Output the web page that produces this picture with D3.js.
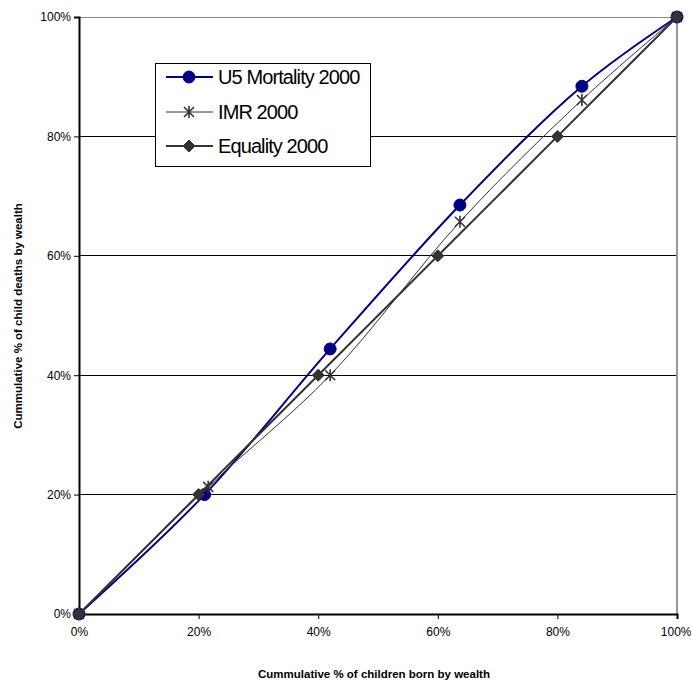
<!DOCTYPE html>
<html>
<head>
<meta charset="utf-8">
<script src="https://cdn.jsdelivr.net/npm/d3@7"></script>
<style>
  html, body { margin: 0; padding: 0; background: #fff; }
  svg { display: block; font-family: Arial, "Liberation Sans", sans-serif; }
</style>
</head>
<body>
<svg id="chart" width="691" height="681"></svg>
<script>
// Cumulative shares (%) by wealth
const u5X = [0, 21, 42, 63.7, 84.1, 100];
const u5Y = [0, 20, 44.4, 68.5, 88.4, 100];
const imrX = [0, 21.6, 42, 63.7, 84.1, 100];
const imrY = [0, 21.3, 40, 65.7, 86.1, 100];
const eqX = [0, 20, 40, 60, 80, 100];
const eqY = [0, 20, 40, 60, 80, 100];
const tickValues = [0, 20, 40, 60, 80, 100];
const seriesNames = ["U5 Mortality 2000", "IMR 2000", "Equality 2000"];

const svg = d3.select("#chart");
const plotL = 79, plotR = 677, plotT = 17, plotB = 614;

const x = d3.scaleLinear().domain([0, 100]).range([plotL, plotR]);
const y = d3.scaleLinear().domain([0, 100]).range([plotB, plotT]);

// horizontal gridlines
svg.append("g").selectAll("line")
  .data(tickValues.filter(d => d > 0))
  .join("line")
  .attr("x1", plotL).attr("x2", plotR)
  .attr("y1", d => y(d)).attr("y2", d => y(d))
  .attr("stroke", d => d === 100 ? "#888" : "#000")
  .attr("stroke-width", 1)
  .attr("shape-rendering", "crispEdges");

// right border of plot area
svg.append("line")
  .attr("x1", plotR).attr("x2", plotR)
  .attr("y1", plotT).attr("y2", plotB)
  .attr("stroke", "#999").attr("stroke-width", 2);

// axes
const fmt = d => d + "%";
const xAxis = svg.append("g")
  .attr("transform", `translate(0,${plotB})`)
  .call(d3.axisBottom(x).tickValues(tickValues).tickFormat(fmt).tickSize(5).tickPadding(8));
const yAxis = svg.append("g")
  .attr("transform", `translate(${plotL},0)`)
  .call(d3.axisLeft(y).tickValues(tickValues).tickFormat(fmt).tickSize(5).tickPadding(3));
[xAxis, yAxis].forEach(a => {
  a.select(".domain").attr("stroke", "#000").attr("stroke-width", 2);
  a.selectAll(".tick line").attr("stroke", "#000");
  a.selectAll(".tick text").attr("fill", "#000").style("font-size", "12px")
    .style("font-family", "Arial, 'Liberation Sans', sans-serif");
});
// keep the last x label inside the frame
xAxis.selectAll(".tick text").filter(d => d === 100).attr("text-anchor", "end").attr("dx", "14");

// axis titles
svg.append("text")
  .attr("x", 374).attr("y", 678)
  .attr("text-anchor", "middle")
  .style("font-size", "11.5px").style("font-weight", "bold")
  .text("Cummulative % of children born by wealth");
svg.append("text")
  .attr("transform", `translate(22,316) rotate(-90)`)
  .attr("text-anchor", "middle")
  .style("font-size", "11.5px").style("font-weight", "bold")
  .text("Cummulative % of child deaths by wealth");

const line = d3.line().curve(d3.curveCatmullRom.alpha(0.5))
  .x(d => x(d[0])).y(d => y(d[1]));

const eqPts = eqX.map((v, i) => [v, eqY[i]]);
const imrPts = imrX.map((v, i) => [v, imrY[i]]);
const u5Pts = u5X.map((v, i) => [v, u5Y[i]]);

// marker helpers
const diamond = (g, cx, cy, r) => g.append("path")
  .attr("d", `M${cx},${cy - r}L${cx + r},${cy}L${cx},${cy + r}L${cx - r},${cy}Z`)
  .attr("fill", "#333").attr("stroke", "#333");
const star = (g, cx, cy, r) => g.append("path")
  .attr("d", `M${cx - r},${cy - r}L${cx + r},${cy + r}M${cx - r},${cy + r}L${cx + r},${cy - r}M${cx},${cy - r - 1}L${cx},${cy + r + 1}`)
  .attr("fill", "none").attr("stroke", "#333").attr("stroke-width", 1.6);
const dot = (g, cx, cy, r) => g.append("circle")
  .attr("cx", cx).attr("cy", cy).attr("r", r)
  .attr("fill", "#000080").attr("stroke", "#000080");

// U5 mortality series (drawn first, underneath)
svg.append("path").datum(u5Pts).attr("d", line)
  .attr("fill", "none").attr("stroke", "#000080").attr("stroke-width", 2);
const gU5 = svg.append("g");
u5Pts.forEach(p => dot(gU5, x(p[0]), y(p[1]), 6));

// IMR series
svg.append("path").datum(imrPts).attr("d", line)
  .attr("fill", "none").attr("stroke", "#333").attr("stroke-width", 1);
const gImr = svg.append("g");
imrPts.forEach(p => star(gImr, x(p[0]), y(p[1]), 5));

// Equality series (on top)
svg.append("path").datum(eqPts).attr("d", line)
  .attr("fill", "none").attr("stroke", "#333").attr("stroke-width", 2);
const gEq = svg.append("g");
eqPts.forEach(p => diamond(gEq, x(p[0]), y(p[1]), 6));

// legend
const lg = svg.append("g");
lg.append("rect").attr("x", 155).attr("y", 63).attr("width", 215).attr("height", 103)
  .attr("fill", "#fff").attr("stroke", "#000").attr("stroke-width", 1)
  .attr("shape-rendering", "crispEdges");
const rows = [77, 112, 146];
const lx1 = 166, lx2 = 213, lmx = 189;
lg.append("line").attr("x1", lx1).attr("x2", lx2).attr("y1", rows[0]).attr("y2", rows[0])
  .attr("stroke", "#000080").attr("stroke-width", 2);
dot(lg, lmx, rows[0], 6);
lg.append("line").attr("x1", lx1).attr("x2", lx2).attr("y1", rows[1]).attr("y2", rows[1])
  .attr("stroke", "#333").attr("stroke-width", 1);
star(lg, lmx, rows[1], 5);
lg.append("line").attr("x1", lx1).attr("x2", lx2).attr("y1", rows[2]).attr("y2", rows[2])
  .attr("stroke", "#333").attr("stroke-width", 2);
diamond(lg, lmx, rows[2], 6);
lg.selectAll("text.lbl").data(seriesNames).join("text")
  .attr("class", "lbl")
  .attr("x", 218).attr("y", (d, i) => rows[i] + 7)
  .style("font-size", "20px").style("letter-spacing", "-0.9px")
  .attr("fill", "#000")
  .text(d => d);
</script>
</body>
</html>
